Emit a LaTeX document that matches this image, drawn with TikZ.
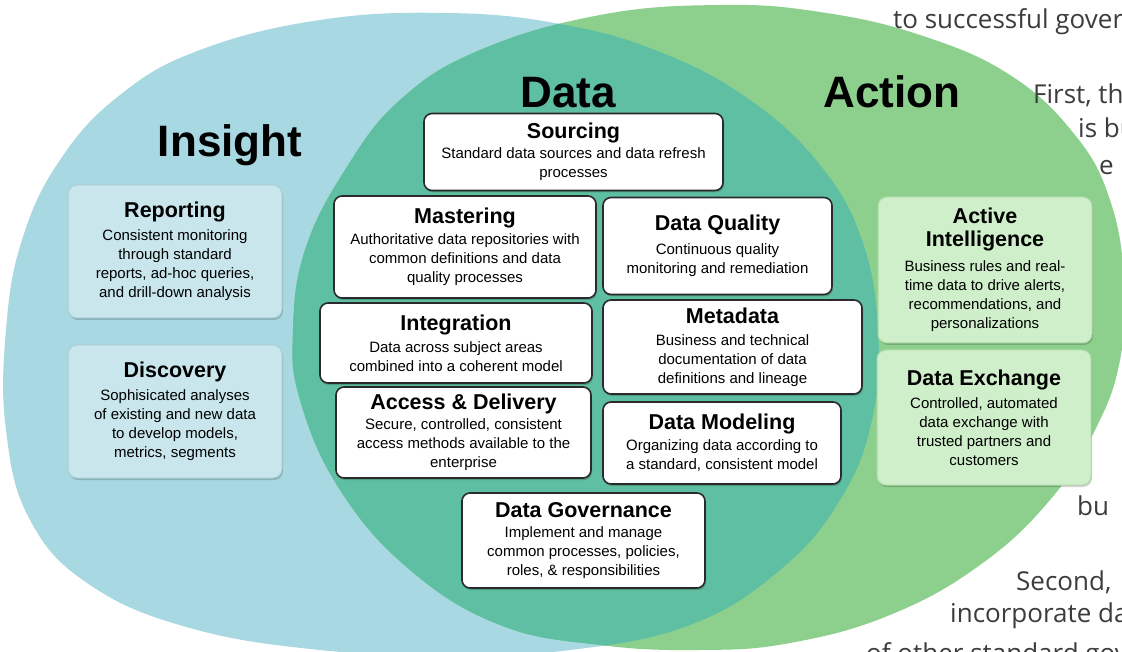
\documentclass[tikz,border=0pt]{standalone}
\usepackage{fontspec}
\setmainfont{Liberation Sans}
\newfontfamily\ovlfont{Open Sans}
\usetikzlibrary{shadows}
\definecolor{insightblue}{HTML}{A8D8E1}
\definecolor{actiongreen}{HTML}{8DD08D}
\definecolor{datateal}{HTML}{5FBFA2}
\definecolor{insightfill}{HTML}{C8E6EC}
\definecolor{insightline}{HTML}{A9CDD5}
\definecolor{actionfill}{HTML}{CFEFCA}
\definecolor{actionline}{HTML}{AFDBA9}
\definecolor{boxline}{HTML}{2A2A2A}
\definecolor{ovlgray}{HTML}{3C3C3C}
\newcommand{\ttl}[1]{{\fontsize{21.5}{24}\selectfont\bfseries #1}}
\tikzset{
  basebox/.style={align=center, inner sep=0pt, font=\fontsize{15}{19}\selectfont},
  softshadow/.style={drop shadow={shadow xshift=1pt, shadow yshift=-2pt, fill=black, opacity=0.18}},
  insightbox/.style={basebox, rounded corners=9pt, fill=insightfill, draw=insightline, line width=1pt, softshadow},
  databox/.style={basebox, rounded corners=8pt, fill=white, draw=boxline, line width=1.6pt, softshadow},
  actionbox/.style={basebox, rounded corners=9pt, fill=actionfill, draw=actionline, line width=1pt, softshadow},
  bigtitle/.style={font=\fontsize{44}{50}\selectfont\bfseries, anchor=base, inner sep=0pt},
  ovl/.style={font=\ovlfont\fontsize{26}{30}\selectfont, text=ovlgray, anchor=base west, inner sep=0pt}
}
\begin{document}
\begin{tikzpicture}[x=1pt,y=-1pt]
\useasboundingbox (0,0) rectangle (1122,652);
\clip (0,0) rectangle (1122,652);
\fill[white] (0,0) rectangle (1122,652);
% Insight circle
\fill[insightblue] plot[smooth cycle, tension=0.7] coordinates {
 (447,13) (560,24) (660,52) (750,100) (820,165) (862,240) (878,330) (872,420)
 (840,500) (780,570) (690,625) (570,650) (447,655) (320,650) (190,628) (90,585)
 (30,520) (6,430) (6,330) (22,240) (60,160) (120,95) (200,50) (320,20)};
% Action circle
\fill[actiongreen] plot[smooth cycle, tension=0.7] coordinates {
 (720,5) (820,12) (920,35) (1010,75) (1075,135) (1110,200) (1124,280) (1120,360)
 (1095,430) (1050,500) (980,565) (890,615) (790,643) (700,650) (600,645) (500,625)
 (410,570) (340,490) (300,400) (293,330) (305,250) (345,170) (400,100) (480,50) (600,15)};
% Data overlap
\begin{scope}
\clip plot[smooth cycle, tension=0.7] coordinates {
 (447,13) (560,24) (660,52) (750,100) (820,165) (862,240) (878,330) (872,420)
 (840,500) (780,570) (690,625) (570,650) (447,655) (320,650) (190,628) (90,585)
 (30,520) (6,430) (6,330) (22,240) (60,160) (120,95) (200,50) (320,20)};
\fill[datateal] plot[smooth cycle, tension=0.7] coordinates {
 (720,5) (820,12) (920,35) (1010,75) (1075,135) (1110,200) (1124,280) (1120,360)
 (1095,430) (1050,500) (980,565) (890,615) (790,643) (700,650) (600,645) (500,625)
 (410,570) (340,490) (300,400) (293,330) (305,250) (345,170) (400,100) (480,50) (600,15)};
\end{scope}

% big titles
\node[bigtitle] (insight) at (230,157) {Insight};
\node[bigtitle] (data) at (568,108) {Data};
\node[bigtitle] (action) at (892,108) {Action};

% Insight boxes
\node[insightbox, minimum width=214pt, minimum height=133pt] (reporting) at (175,251.5)
 {\ttl{Reporting}\\[4pt]Consistent monitoring\\through standard\\reports, ad-hoc queries,\\and drill-down analysis};
\node[insightbox, minimum width=214pt, minimum height=133pt] (discovery) at (175,411.5)
 {\ttl{Discovery}\\[4pt]Sophisicated analyses\\of existing and new data\\to develop models,\\metrics, segments};

% Data boxes
\node[databox, minimum width=299pt, minimum height=77pt] (sourcing) at (573.5,152)
 {\ttl{Sourcing}\\[1pt]Standard data sources and data refresh\\processes};
\node[databox, minimum width=262pt, minimum height=102pt] (mastering) at (465,247)
 {\ttl{Mastering}\\[2pt]Authoritative data repositories with\\common definitions and data\\quality processes};
\node[databox, minimum width=229pt, minimum height=97pt] (quality) at (717.5,246)
 {\ttl{Data Quality}\\[5pt]Continuous quality\\monitoring and remediation};
\node[databox, minimum width=272pt, minimum height=80pt] (integration) at (456,343)
 {\ttl{Integration}\\[3pt]Data across subject areas\\combined into a coherent model};
\node[databox, minimum width=259pt, minimum height=94pt] (metadata) at (732.5,347)
 {\ttl{Metadata}\\[3pt]Business and technical\\documentation of data\\definitions and lineage};
\node[databox, minimum width=255pt, minimum height=91pt] (access) at (463.5,432.5)
 {\ttl{Access \& Delivery}\\[1pt]Secure, controlled, consistent\\access methods available to the\\enterprise};
\node[databox, minimum width=238pt, minimum height=82pt] (modeling) at (722,443)
 {\ttl{Data Modeling}\\[2pt]Organizing data according to\\a standard, consistent model};
\node[databox, minimum width=243pt, minimum height=95pt] (governance) at (583.5,540.5)
 {\ttl{Data Governance}\\[1pt]Implement and manage\\common processes, policies,\\roles, \& responsibilities};

% Action boxes
\node[actionbox, minimum width=214pt, minimum height=146pt] (active) at (985,270)
 {\ttl{Active}\\[4pt]\ttl{Intelligence}\\[6pt]Business rules and real-\\time data to drive alerts,\\recommendations, and\\personalizations};
\node[actionbox, minimum width=214pt, minimum height=135pt] (exchange) at (984,417.5)
 {\ttl{Data Exchange}\\[4pt]Controlled, automated\\data exchange with\\trusted partners and\\customers};

% overlay text at right edge
\node[ovl] (ov1) at (893,29) {to successful gover};
\node[ovl] (ov2) at (1033,104) {First, th};
\node[ovl] (ov3) at (1078,138) {is bu};
\node[ovl] (ov4) at (1099,175) {e};
\node[ovl] (ov5) at (1077,515) {bu};
\node[ovl] (ov6) at (1016,590) {Second,};
\node[ovl] (ov7) at (950,622) {incorporate da};
\node[ovl] (ov8) at (866,662) {of other standard gov};
\end{tikzpicture}
\end{document}
